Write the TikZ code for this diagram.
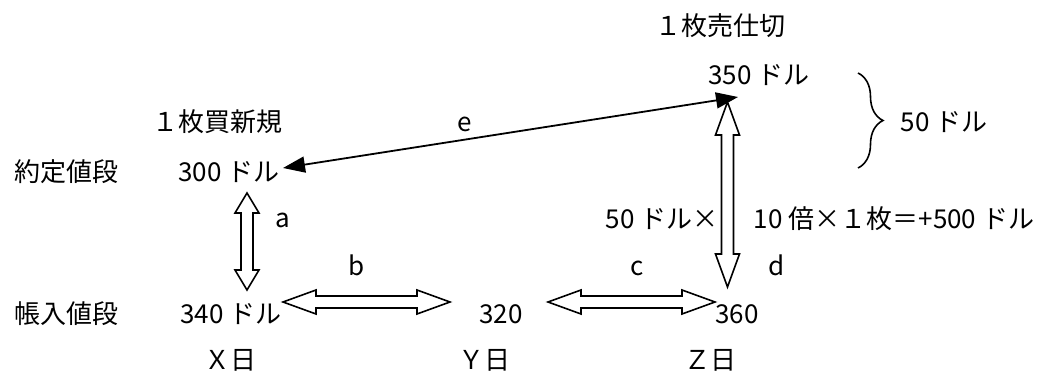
\documentclass[tikz,border=0pt]{standalone}
\usepackage{fontspec}
\setmainfont{Noto Sans CJK JP}
\usetikzlibrary{arrows.meta,calc,decorations.pathreplacing}

\tikzset{
  lbl/.style={font=\fontsize{26}{30}\selectfont,inner sep=0pt,anchor=base},
  blockarrow/.style={draw=black,line width=1.6pt,fill=white,line join=miter},
  tiparrow/.style={line width=1.8pt,{Triangle[length=22pt,width=16pt]}-{Triangle[length=22pt,width=16pt]}},
}
% hollow double-headed block arrow: [head length]{from}{to}
\newcommand{\dblblock}[3][33pt]{%
  \draw[blockarrow] (#2)
    -- ($(#2)!#1!(#3)!12pt!90:(#3)$) -- ($(#2)!#1!(#3)!6pt!90:(#3)$)
    -- ($(#3)!#1!(#2)!6pt!-90:(#2)$) -- ($(#3)!#1!(#2)!12pt!-90:(#2)$)
    -- (#3)
    -- ($(#3)!#1!(#2)!12pt!90:(#2)$) -- ($(#3)!#1!(#2)!6pt!90:(#2)$)
    -- ($(#2)!#1!(#3)!6pt!-90:(#3)$) -- ($(#2)!#1!(#3)!12pt!-90:(#3)$)
    -- cycle;}

\begin{document}
\begin{tikzpicture}[x=1pt,y=1pt]
  \useasboundingbox (0,0) rectangle (1042,373);
  % row labels
  \node[lbl] (yak) at (66,192) {約定値段};
  \node[lbl] (cho) at (66,50) {帳入値段};
  % prices
  \node[lbl] (new) at (217,241) {１枚買新規};
  \node[lbl] (p300) at (229,192) {300 ドル};
  \node[lbl] (p340) at (231,50) {340 ドル};
  \node[lbl] (p320) at (501,50) {320};
  \node[lbl] (p360) at (737,50) {360};
  \node[lbl] (sell) at (720,337) {１枚売仕切};
  \node[lbl] (p350) at (759,288) {350 ドル};
  \node[lbl] (diff) at (944,241) {50 ドル};
  \node[lbl] (calcL) at (662,145) {50 ドル×};
  \node[lbl] (calcR) at (894,145) {10 倍×１枚＝+500 ドル};
  % days
  \node[lbl] (dx) at (230,4) {Ｘ日};
  \node[lbl] (dy) at (484,4) {Ｙ日};
  \node[lbl] (dz) at (710,4) {Ｚ日};
  % arrow letters
  \node[lbl] (la) at (283,146) {a};
  \node[lbl] (lb) at (357,98) {b};
  \node[lbl] (lc) at (637,98) {c};
  \node[lbl] (ld) at (777,98) {d};
  \node[lbl] (le) at (465,241) {e};
  % arrow ends
  \coordinate (aT) at (247,180);
  \coordinate (aB) at (247,83);
  \coordinate (bL) at (283,71);
  \coordinate (bR) at (450,71);
  \coordinate (cL) at (548,71);
  \coordinate (cR) at (715,71);
  \coordinate (dT) at (727.5,271);
  \coordinate (dB) at (727.5,86);
  \coordinate (eL) at (283,205);
  \coordinate (eR) at (738,276);
  \dblblock[20pt]{aT}{aB}
  \dblblock{bL}{bR}
  \dblblock{cL}{cR}
  \dblblock{dT}{dB}
  \draw[tiparrow] (eL) -- (eR);
  % brace for the 50 dollar gap
  \draw[line width=1.6pt,decorate,decoration={brace,amplitude=25pt}] (858,300) -- (858,205);
\end{tikzpicture}
\end{document}
